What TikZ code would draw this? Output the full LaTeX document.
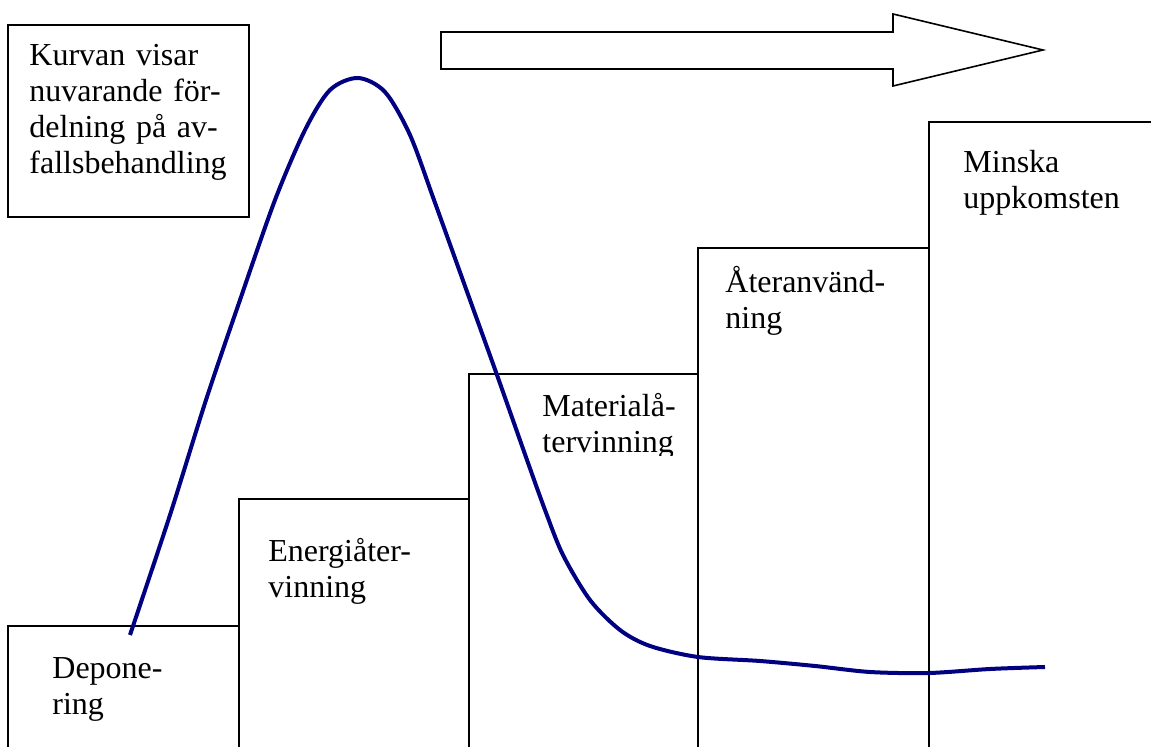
\documentclass[tikz,border=0pt]{standalone}
\usepackage{fontspec}
\setmainfont{Liberation Serif}
\usepackage{tikz}
\definecolor{kurvblue}{RGB}{0,0,128}

\begin{document}
\begin{tikzpicture}[x=0.5pt,y=-0.5pt]
\tikzstyle{every node}+=[inner sep=0pt]
\tikzstyle{steplabel}=[anchor=base west, text width=120pt, align=left, font=\fontsize{16}{18}\selectfont]
\clip (0,0) rectangle (1151,747);
% trappstegen
\draw [black, line width=1pt] (8,760) -- (8,626) -- (239,626) -- (239,760);
\draw [black, line width=1pt] (239,760) -- (239,499) -- (469,499) -- (469,760);
\draw [black, line width=1pt] (469,760) -- (469,374) -- (698,374) -- (698,760);
\draw [black, line width=1pt] (698,760) -- (698,248) -- (929,248) -- (929,760);
\draw [black, line width=1pt] (929,760) -- (929,122) -- (1160,122);
\node (depo) [steplabel] at (52,679) {Depone-\\ring};
\node (energi) [steplabel] at (268,562) {Energiåter-\\vinning};
\begin{scope}
\clip (469,374) rectangle (698,456);
\node (material) [steplabel] at (542,417) {Materialå-\\tervinning};
\end{scope}
\node (ateranv) [steplabel] at (725,293) {Återanvänd-\\ning};
\node (minska) [steplabel] at (963,173) {Minska\\uppkomsten};
% rutan
\draw [black, line width=1pt] (8,25) rectangle (249,217);
\node (kurvan) [steplabel] at (29,66) {Kurvan visar\\nuvarande för-\\delning på av-\\fallsbehandling};
% pilen
\draw [black, line width=0.8pt] (441,32) -- (893,32) -- (893,14) -- (1043,50) -- (893,86) -- (893,69) -- (441,69) -- cycle;
% kurvan
\draw [kurvblue, line width=2pt] plot [smooth, tension=0.5] coordinates {(130,635) (170,515) (206,400) (240,300) (275,200) (305,130) (330,90) (358,78) (385,92) (410,135) (434,200) (470,300) (497,375) (527,460) (545,510) (563,555) (590,600) (620,630) (650,646) (698,657) (760,661) (815,666) (870,672) (929,673) (990,669) (1045,667)};
\end{tikzpicture}
\end{document}
